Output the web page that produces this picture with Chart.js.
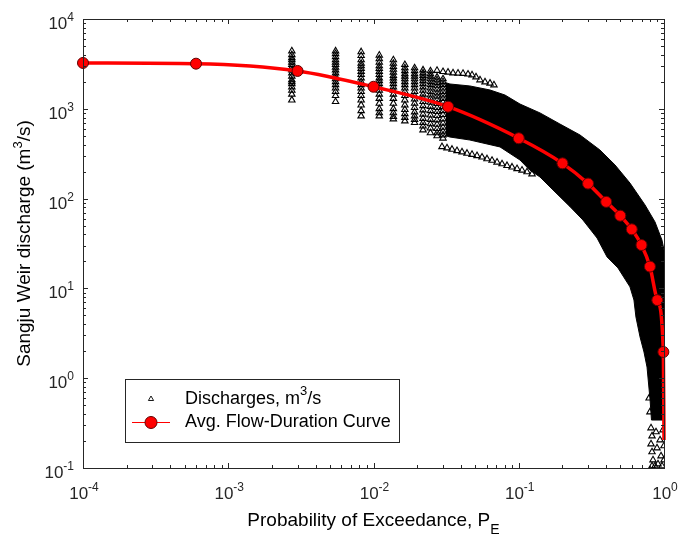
<!DOCTYPE html>
<html>
<head>
<meta charset="utf-8">
<title>Sangju Weir flow-duration</title>
<script src="https://cdn.jsdelivr.net/npm/chart.js@4"></script>
<style>
body{margin:0;background:#fff}
</style>
</head>
<body>
<canvas id="fdc" width="678" height="535"></canvas>
<script>
// average flow-duration curve (red)
const curveP = [0.0001, 0.0006, 0.003, 0.01, 0.0326, 0.1, 0.2, 0.3, 0.4, 0.5, 0.6, 0.7, 0.8, 0.9, 0.99, 1.0]
const curveQ = [3240, 3180, 2640, 1760, 1055, 470, 247, 147, 92, 64.5, 45.5, 30.4, 17.5, 7.4, 1.96, 0.205]

// yearly discharges: the separate columns at the highest ranks
const columnP = [0.00274, 0.00548, 0.00822, 0.01096, 0.0137, 0.01644, 0.01918, 0.02192, 0.02466, 0.0274, 0.0301]
const columnQ = [
[4400, 4000, 3700, 3500, 3300, 3100, 2900, 2700, 2500, 2300, 2100, 2000, 1900, 1750, 1600, 1450, 1250],
[4400, 4100, 3800, 3500, 3300, 3100, 2900, 2700, 2500, 2300, 2150, 2000, 1850, 1700, 1550, 1400, 1200],
[4300, 3900, 3500, 3200, 3000, 2800, 2600, 2400, 2200, 2000, 1850, 1700, 1550, 1400, 1250, 1100, 950, 830],
[3950, 3600, 3300, 3000, 2800, 2600, 2400, 2200, 2050, 1900, 1750, 1600, 1450, 1300, 1150, 1000, 900, 830],
[3500, 3200, 2950, 2750, 2550, 2350, 2200, 2050, 1900, 1750, 1600, 1450, 1300, 1150, 1000, 900, 820, 770],
[3100, 2850, 2650, 2450, 2300, 2150, 2000, 1850, 1700, 1550, 1400, 1250, 1100, 980, 880, 800, 730],
[2850, 2650, 2450, 2300, 2150, 2000, 1850, 1700, 1550, 1400, 1280, 1150, 1030, 920, 830, 760, 700],
[2700, 2500, 2350, 2200, 2050, 1900, 1750, 1600, 1450, 1320, 1200, 1080, 970, 870, 780, 700, 640, 580],
[2640, 2450, 2300, 2150, 2000, 1850, 1700, 1550, 1420, 1300, 1180, 1060, 950, 850, 760, 680, 610, 540],
[2250, 2100, 1950, 1800, 1650, 1500, 1380, 1260, 1140, 1030, 930, 840, 750, 670, 600, 540, 500],
[2150, 2000, 1850, 1700, 1550, 1420, 1300, 1180, 1060, 950, 860, 770, 690, 620, 560, 510, 470]
]

// top row of single triangles above the dense cloud
const topRowP = [0.02737, 0.0301, 0.03258, 0.03527, 0.03818, 0.04133, 0.04474, 0.04767, 0.05078, 0.05409, 0.05856, 0.0634, 0.0675]
const topRowQ = [2670, 2589, 2550, 2504, 2485, 2473, 2429, 2379, 2260, 2093, 1988, 1923, 1841]

// low year, separate row under the cloud
const lowRowP = [0.02961, 0.03206, 0.03471, 0.03757, 0.04067, 0.04403, 0.04767, 0.0516, 0.05585, 0.06046, 0.06545, 0.07086, 0.0767, 0.08303, 0.08988, 0.0973, 0.1053, 0.114, 0.1234]
const lowRowQ = [377.5, 366, 353, 341, 330, 319, 310, 300, 289, 277, 266, 254, 243, 233, 224, 215, 207, 198, 188]

// sparse triangles at the very bottom near P = 1
const tailP = [0.814, 0.827, 0.814, 0.827, 0.84, 0.827, 0.881, 0.895, 0.909, 0.939, 0.954, 0.969, 0.984, 1.0, 1.0, 0.867, 0.8, 0.79]
const tailQ = [0.279, 0.227, 0.185, 0.151, 0.1228, 0.1052, 0.252, 0.167, 0.1108, 0.205, 0.136, 0.1052, 0.265, 0.176, 0.1228, 0.1052, 0.42, 0.6]

// outline of the solid black part of the cloud
const bandUpperP = [0.0315, 0.0336, 0.0461, 0.0634, 0.0803, 0.102, 0.14, 0.192, 0.264, 0.362, 0.46, 0.583, 0.74, 0.867, 0.968, 1.0, 1.0]
const bandUpperQ = [1950, 1889, 1796, 1620, 1425, 1130, 900, 677, 511, 348, 237, 149, 85, 55, 34.6, 26.8, 0.342]
const bandLowerP = [0.0315, 0.0336, 0.0461, 0.0743, 0.102, 0.119, 0.14, 0.172, 0.2255, 0.2765, 0.346, 0.4055, 0.482, 0.583, 0.621, 0.641, 0.684, 0.728, 0.764, 0.802, 0.82]
const bandLowerQ = [500, 485, 449, 376, 269, 208, 174, 125, 81.3, 57.8, 36.4, 22.4, 16.9, 10.4, 7.43, 4.8, 2.88, 1.96, 1.33, 0.571, 0.342]

const xTicks = [1e-4, 1e-3, 1e-2, 1e-1, 1]
const xTickExp = ["-4", "-3", "-2", "-1", "0"]
const yTicks = [0.1, 1, 10, 100, 1000, 10000]
const yTickExp = ["-1", "0", "1", "2", "3", "4"]

const FONT = '"Liberation Sans", Arial, sans-serif'

let scatterPts = []
columnP.forEach((p, i) => columnQ[i].forEach(q => scatterPts.push({x: p, y: q})))
topRowP.forEach((p, i) => scatterPts.push({x: p, y: topRowQ[i]}))
lowRowP.forEach((p, i) => scatterPts.push({x: p, y: lowRowQ[i]}))
tailP.forEach((p, i) => scatterPts.push({x: p, y: tailQ[i]}))

let bandPts = bandUpperP.map((p, i) => ({x: p, y: bandUpperQ[i]}))
for (let i = bandLowerP.length - 1; i >= 0; i--) {
bandPts.push({x: bandLowerP[i], y: bandLowerQ[i]})
}

function minorTicks(majors){
let out = []
for (let i = 0; i < majors.length - 1; i++) {
for (let m = 2; m <= 9; m++) out.push(majors[i] * m)
}
return out
}

function drawPower(ctx, exp, x, y, align, baseSize, expSize, expRise){
ctx.font = baseSize + 'px ' + FONT
const w1 = ctx.measureText('10').width
ctx.font = expSize + 'px ' + FONT
const w2 = ctx.measureText(exp).width
let left = align === 'right' ? x - w1 - w2 : x - (w1 + w2) / 2
ctx.textAlign = 'left'
ctx.font = baseSize + 'px ' + FONT
ctx.fillText('10', left, y)
ctx.font = expSize + 'px ' + FONT
ctx.fillText(exp, left + w1, y - expRise)
}

// axes box, inward ticks, tick labels and titles drawn MATLAB style
const axesFrame = {
id: 'axesFrame',
afterDraw(chart){
const ctx = chart.ctx
const xs = chart.scales.x
const ys = chart.scales.y
const a = chart.chartArea
ctx.save()
ctx.strokeStyle = '#262626'
ctx.lineWidth = 1
ctx.beginPath()
const tickX = (v, len) => {
const px = Math.round(xs.getPixelForValue(v)) + 0.5
ctx.moveTo(px, a.bottom); ctx.lineTo(px, a.bottom - len)
ctx.moveTo(px, a.top); ctx.lineTo(px, a.top + len)
}
const tickY = (v, len) => {
const py = Math.round(ys.getPixelForValue(v)) + 0.5
ctx.moveTo(a.left, py); ctx.lineTo(a.left + len, py)
ctx.moveTo(a.right, py); ctx.lineTo(a.right - len, py)
}
xTicks.forEach(v => tickX(v, 5))
minorTicks(xTicks).forEach(v => tickX(v, 3))
yTicks.forEach(v => tickY(v, 5))
minorTicks(yTicks).forEach(v => tickY(v, 3))
ctx.stroke()
ctx.strokeRect(Math.round(a.left) + 0.5, Math.round(a.top) + 0.5, Math.round(a.right - a.left), Math.round(a.bottom - a.top))

ctx.fillStyle = '#262626'
ctx.textBaseline = 'alphabetic'
xTicks.forEach((v, i) => {
drawPower(ctx, xTickExp[i], xs.getPixelForValue(v) + 1, a.bottom + 31, 'center', 17, 12, 8)
})
yTicks.forEach((v, i) => {
drawPower(ctx, yTickExp[i], 74, ys.getPixelForValue(v) + 10, 'right', 17, 12, 8)
})

// x title with subscript
ctx.fillStyle = '#000'
ctx.font = '19px ' + FONT
const xt = 'Probability of Exceedance, P'
const wx = ctx.measureText(xt).width
ctx.font = '14px ' + FONT
const wsub = ctx.measureText('E').width
const xc = (a.left + a.right) / 2
let xl = xc - (wx + wsub) / 2
ctx.font = '19px ' + FONT
ctx.fillText(xt, xl, 526)
ctx.font = '14px ' + FONT
ctx.fillText('E', xl + wx, 534)

// y title with superscript
ctx.translate(30, (a.top + a.bottom) / 2)
ctx.rotate(-Math.PI / 2)
ctx.font = '19px ' + FONT
const t1 = 'Sangju Weir discharge (m', t3 = '/s)'
const w1 = ctx.measureText(t1).width
const w3 = ctx.measureText(t3).width
ctx.font = '13px ' + FONT
const w2 = ctx.measureText('3').width
let yl = -(w1 + w2 + w3) / 2
ctx.font = '19px ' + FONT
ctx.fillText(t1, yl, 0)
ctx.fillText(t3, yl + w1 + w2, 0)
ctx.font = '13px ' + FONT
ctx.fillText('3', yl + w1, -8)
ctx.restore()
}
}

// boxed legend inside the axes, lower left
const boxLegend = {
id: 'boxLegend',
afterDraw(chart){
const ctx = chart.ctx
const sets = chart.data.datasets
ctx.save()
ctx.fillStyle = '#fff'
ctx.fillRect(125.5, 379.5, 274, 63)
ctx.strokeStyle = '#262626'
ctx.lineWidth = 1
ctx.strokeRect(125.5, 379.5, 274, 63)

// triangle marker
ctx.strokeStyle = '#000'
ctx.lineWidth = 0.9
ctx.beginPath()
ctx.moveTo(151, 396)
ctx.lineTo(153.6, 400.5)
ctx.lineTo(148.4, 400.5)
ctx.closePath()
ctx.stroke()

// red line with circle
ctx.strokeStyle = '#ff0000'
ctx.lineWidth = 1
ctx.beginPath()
ctx.moveTo(132, 422.5)
ctx.lineTo(170, 422.5)
ctx.stroke()
ctx.beginPath()
ctx.arc(151, 422.5, 6, 0, Math.PI * 2)
ctx.fillStyle = '#ff0000'
ctx.fill()
ctx.strokeStyle = '#600000'
ctx.stroke()

ctx.fillStyle = '#000'
ctx.textAlign = 'left'
ctx.font = '18px ' + FONT
const l1 = sets[1].legendText
ctx.fillText(l1[0], 185, 403.5)
const wa = ctx.measureText(l1[0]).width
ctx.font = '13px ' + FONT
ctx.fillText(l1[1], 185 + wa, 395)
const wb = ctx.measureText(l1[1]).width
ctx.font = '18px ' + FONT
ctx.fillText(l1[2], 185 + wa + wb, 403.5)
ctx.fillText(sets[0].legendText[0], 185, 427)
ctx.restore()
}
}

new Chart(document.getElementById('fdc'), {
data: {
datasets: [
{
type: 'line',
label: 'Avg. Flow-Duration Curve',
legendText: ['Avg. Flow-Duration Curve'],
data: curveP.map((p, i) => ({x: p, y: curveQ[i]})),
borderColor: '#ff0000',
borderWidth: 3.5,
pointRadius: curveP.map((p, i) => i === curveP.length - 1 ? 0 : 5.5),
pointBackgroundColor: '#ff0000',
pointBorderColor: '#600000',
pointBorderWidth: 1,
cubicInterpolationMode: 'monotone',
clip: false,
order: 0
},
{
type: 'scatter',
label: 'Discharges, m3/s',
legendText: ['Discharges, m', '3', '/s'],
data: scatterPts,
pointStyle: 'triangle',
pointRadius: 3.7,
borderWidth: 1.1,
borderColor: '#000',
backgroundColor: 'rgba(255,255,255,0)',
order: 1
},
{
type: 'line',
label: 'cloud',
data: bandPts,
fill: 'shape',
backgroundColor: '#000',
borderColor: '#000',
borderWidth: 1,
pointRadius: 0,
tension: 0,
order: 2
}
]
},
options: {
responsive: false,
animation: false,
layout: {padding: {left: 83, top: 19, right: 14, bottom: 67}},
plugins: {legend: {display: false}, tooltip: {enabled: false}},
scales: {
x: {type: 'logarithmic', min: 1e-4, max: 1, display: false},
y: {type: 'logarithmic', min: 0.1, max: 10000, display: false}
}
},
plugins: [axesFrame, boxLegend]
})
</script>
</body>
</html>
